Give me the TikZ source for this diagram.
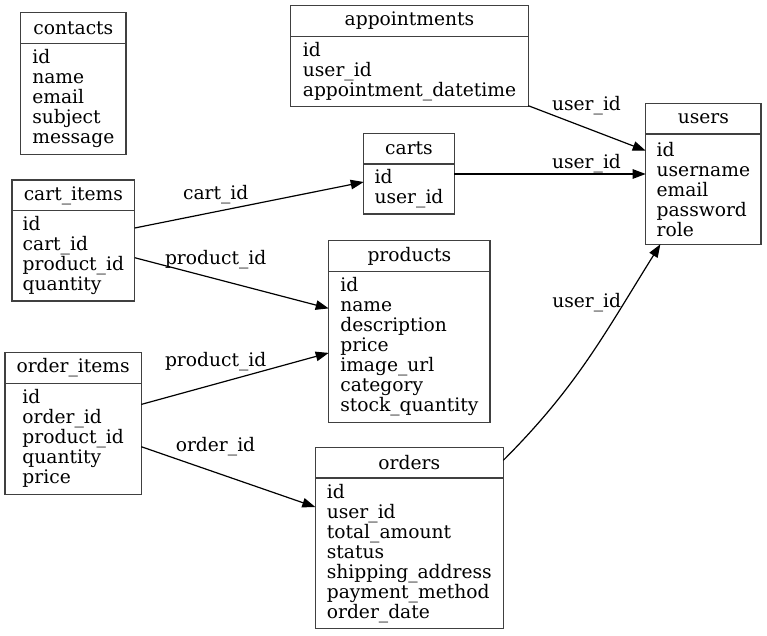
\documentclass[tikz,border=0pt]{standalone}
\usepackage{fontspec}
\setmainfont{DejaVu Serif}
\usetikzlibrary{positioning, arrows.meta}

\begin{document}
\begin{tikzpicture}[x=1pt, y=-1pt, >={Triangle[length=13pt, width=9.5pt]}]
        \tikzstyle{tblhead} = [rectangle, draw=black!75, line width=1.1pt, inner sep=0pt, outer sep=0pt, anchor=north west, minimum height=30.7pt, font=\fontsize{18.67}{20}\selectfont]
        \tikzstyle{tblbody} = [rectangle, draw=black!75, line width=1.1pt, inner sep=0pt, outer sep=0pt, align=left, font=\fontsize{18.67}{20}\selectfont]
        \tikzstyle{fk} = [->, line width=1.2pt]
        \tikzstyle{lbl} = [anchor=base, inner sep=0pt, font=\fontsize{18.67}{20}\selectfont]

        \useasboundingbox (0,0) rectangle (767,635);

        % tables
        \node [tblhead, minimum width=105.3pt] (contacts) at (20.7,12.7) {contacts};
        \node [tblbody, minimum width=105.3pt, minimum height=111pt, below=0pt of contacts] (contacts-f) {id\\name\\email\\subject\\message};

        \node [tblhead, minimum width=237.6pt] (appointments) at (290.7,5.7) {appointments};
        \node [tblbody, minimum width=237.6pt, minimum height=70.3pt, below=0pt of appointments] (appointments-f) {id\\user\_id\\appointment\_datetime};

        \node [tblhead, minimum width=115.3pt] (users) at (645.7,103.3) {users};
        \node [tblbody, minimum width=115.3pt, minimum height=110.3pt, below=0pt of users] (users-f) {id\\username\\email\\password\\role};

        \node [tblhead, minimum width=90.6pt] (carts) at (363.7,133.3) {carts};
        \node [tblbody, minimum width=90.6pt, minimum height=50pt, below=0pt of carts] (carts-f) {id\\user\_id};

        \node [tblhead, minimum width=122.7pt] (cartitems) at (12,180) {cart\_items};
        \node [tblbody, minimum width=122.7pt, minimum height=90.3pt, below=0pt of cartitems] (cartitems-f) {id\\cart\_id\\product\_id\\quantity};

        \node [tblhead, minimum width=161.3pt] (products) at (328.7,240.7) {products};
        \node [tblbody, minimum width=161.3pt, minimum height=150.7pt, below=0pt of products] (products-f) {id\\name\\description\\price\\image\_url\\category\\stock\_quantity};

        \node [tblhead, minimum width=136.3pt] (orderitems) at (5,352.7) {order\_items};
        \node [tblbody, minimum width=136.3pt, minimum height=110.7pt, below=0pt of orderitems] (orderitems-f) {id\\order\_id\\product\_id\\quantity\\price};

        \node [tblhead, minimum width=188pt] (orders) at (315.3,447.3) {orders};
        \node [tblbody, minimum width=188pt, minimum height=150.3pt, below=0pt of orders] (orders-f) {id\\user\_id\\total\_amount\\status\\shipping\_address\\payment\_method\\order\_date};

        % foreign keys
        \draw [fk] ([yshift=-17.3pt]cartitems-f.north east) -- ([yshift=-18pt]carts-f.north west);
        \draw [fk] ([yshift=-47pt]cartitems-f.north east) -- ([yshift=-37pt]products-f.north west);
        \draw [fk] ([yshift=-21pt]orderitems-f.north east) -- ([yshift=-81.5pt]products-f.north west);
        \draw [fk] ([yshift=-63.3pt]orderitems-f.north east) -- ([yshift=-29pt]orders-f.north west);
        \draw [fk] ([yshift=1pt]appointments-f.south east) -- ([yshift=-16.7pt]users-f.north west);
        \draw [fk] ([yshift=-10pt]carts-f.north east) -- ([yshift=-40pt]users-f.north west);
        \draw [fk] ([yshift=-13pt]orders.north east) to[out=45, in=238] ([xshift=-43pt]users-f.south);

        \node [lbl] (l-cartid) at (215.7,199) {cart\_id};
        \node [lbl] (l-prod1) at (215.7,264.3) {product\_id};
        \node [lbl] (l-prod2) at (215.7,366) {product\_id};
        \node [lbl] (l-orderid) at (215.5,451.7) {order\_id};
        \node [lbl] (l-user1) at (586.5,110) {user\_id};
        \node [lbl] (l-user2) at (586.5,168.3) {user\_id};
        \node [lbl] (l-user3) at (586.7,307.7) {user\_id};

    \end{tikzpicture}
\end{document}
